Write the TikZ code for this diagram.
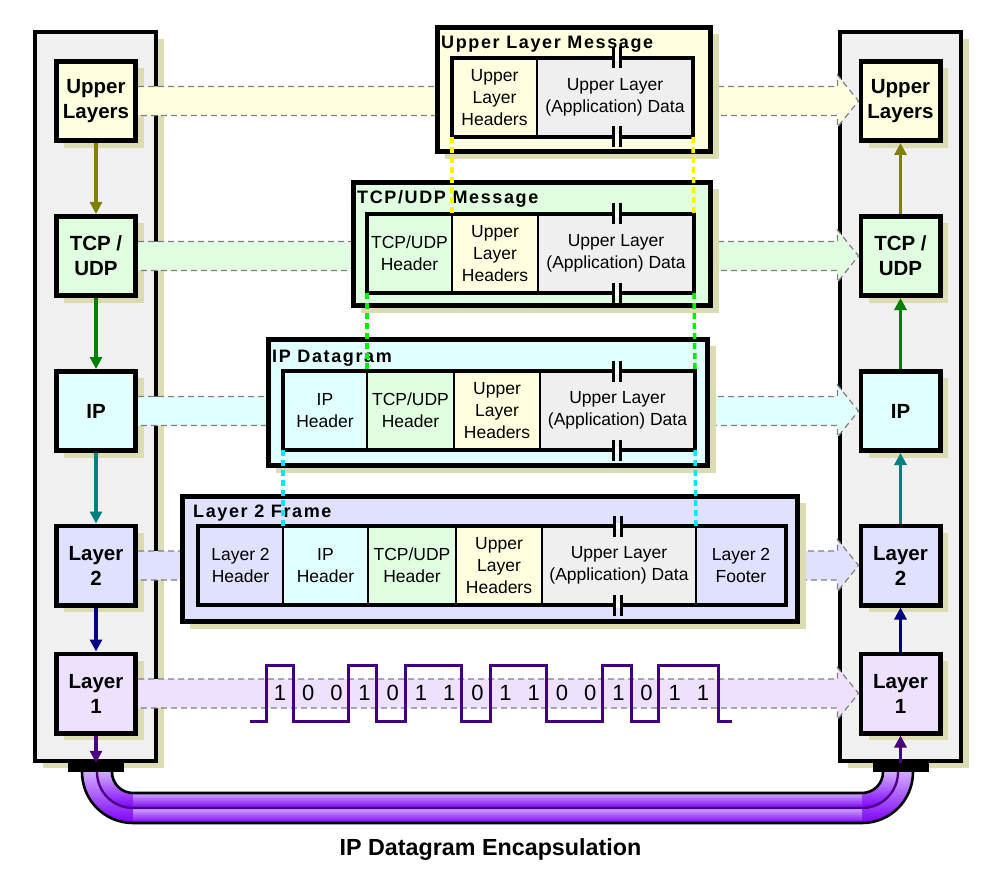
\documentclass[tikz,border=0pt]{standalone}
\usepackage{fontspec}
\setmainfont{Liberation Sans}
\newfontfamily\ttlfont[LetterSpace=9]{Liberation Sans}
\usetikzlibrary{arrows.meta,calc,shadows}
\definecolor{shtan}{RGB}{221,219,178}
\definecolor{pnl}{HTML}{F0F0F0}
\definecolor{cup}{HTML}{FFFFE0}
\definecolor{ctcp}{HTML}{E0FFE0}
\definecolor{cip}{HTML}{E0FFFF}
\definecolor{clt}{HTML}{E0E0FF}
\definecolor{clo}{HTML}{EDE1FF}
\definecolor{cdat}{HTML}{EFEFEF}
\definecolor{wavec}{HTML}{400080}
\definecolor{olivea}{HTML}{808000}
\definecolor{greena}{HTML}{008000}
\definecolor{teala}{HTML}{008080}
\definecolor{navya}{HTML}{000080}
\definecolor{indigoa}{HTML}{4B0082}
\definecolor{cabtop}{RGB}{210,170,255}
\definecolor{cabbot}{RGB}{125,0,250}
\definecolor{dotgreen}{HTML}{00F000}
\definecolor{dotcyan}{HTML}{00E8FF}
\newcommand\bandto[3]{%
  \fill[#3] ($(#1.east)+(0,-14.5)$) -- ($(#2.west)+(-21,-14.5)$) -- ($(#2.west)+(-21,-26)$) -- (#2.west) -- ($(#2.west)+(-21,26)$) -- ($(#2.west)+(-21,14.5)$) -- ($(#1.east)+(0,14.5)$) -- cycle;
  \draw[band] ($(#1.east)+(0,-14.5)$) -- ($(#2.west)+(-21,-14.5)$) -- ($(#2.west)+(-21,-26)$) -- (#2.west) -- ($(#2.west)+(-21,26)$) -- ($(#2.west)+(-21,14.5)$) -- ($(#1.east)+(0,14.5)$);
}
\newcommand\brkmark[2]{%
  \fill[white] (#1-2.5,#2-3) rectangle (#1+2.5,#2+3);
  \draw[line width=3.7] (#1-3.6,#2-10.5) -- (#1-3.6,#2+10.5) (#1+3.6,#2-10.5) -- (#1+3.6,#2+10.5);
}
\begin{document}
\begin{tikzpicture}[x=1pt,y=-1pt,
  shd/.style={drop shadow={shadow xshift=8pt,shadow yshift=-7pt,fill=shtan,opacity=1}},
  panel/.style={draw,line width=4,fill=pnl,minimum width=121,minimum height=729,inner sep=0,shd},
  lay/.style={draw,line width=4.6,minimum width=79.4,minimum height=79.4,inner sep=0,align=center,font=\fontsize{20.5}{25}\selectfont\bfseries,shd},
  msg/.style={draw,line width=4.6,inner sep=0,shd},
  cell/.style={draw,line width=1.3,inner sep=0,outer sep=0,align=center,font=\fontsize{17.5}{22}\selectfont},
  frame/.style={line width=4.6},
  ttl/.style={anchor=base west,inner sep=0,font={\ttlfont\fontsize{18}{21}\selectfont\bfseries}},
  band/.style={draw=gray,dash pattern=on 6pt off 4pt,line width=1.2},
  conn/.style={line width=3.4,-{Triangle[length=12pt,width=12pt]}},
  dots/.style={line width=3.5,dash pattern=on 6pt off 4pt},
  digit/.style={font=\fontsize{22}{22}\selectfont,inner sep=0}]
\fill[white] (0,0) rectangle (1000,877);
\useasboundingbox (0,0) rectangle (1000,877);

% panels
\node[panel] (lpan) at (95.75,396.5) {};
\node[panel] (rpan) at (900.5,396.5) {};

% layer boxes
\node[lay,fill=cup]  (lu) at (96,101)   {Upper\\Layers};
\node[lay,fill=ctcp] (lt) at (96,256)   {TCP /\\UDP};
\node[lay,fill=cip]  (li) at (96,411)   {IP};
\node[lay,fill=clt]  (l2) at (96,565.5) {Layer\\2};
\node[lay,fill=clo]  (l1) at (96,693.5) {Layer\\1};
\node[lay,fill=cup]  (ru) at (900.5,101)   {Upper\\Layers};
\node[lay,fill=ctcp] (rt) at (900.5,256)   {TCP /\\UDP};
\node[lay,fill=cip]  (ri) at (900.5,411)   {IP};
\node[lay,fill=clt]  (r2) at (900.5,565.5) {Layer\\2};
\node[lay,fill=clo]  (r1) at (900.5,693.5) {Layer\\1};

% bands
\bandto{lu}{ru}{cup}
\bandto{lt}{rt}{ctcp}
\bandto{li}{ri}{cip}
\bandto{l2}{r2}{clt}
\bandto{l1}{r1}{clo}

% Upper Layer Message
\node[msg,fill=cup,minimum width=273.4,minimum height=124.4] (ulm) at (574,89.5) {};
\node[ttl] (ulmt) at (441,49) {Upper Layer Message};
\node[cell,fill=cup,minimum width=85,minimum height=79] (ulmh) at (494.5,97.5) {Upper\\Layer\\Headers};
\node[cell,fill=cdat,minimum width=156,minimum height=79] (ulmd) at (615,97.5) {Upper Layer\\(Application) Data};
\draw[frame] (ulmh.north west) rectangle (ulmd.south east);
\brkmark{617}{58}
\brkmark{617}{137}

% TCP/UDP Message
\node[msg,fill=ctcp,minimum width=357.4,minimum height=123.4] (tcm) at (532,244) {};
\node[ttl] (tcmt) at (357,204) {TCP/UDP Message};
\node[cell,fill=ctcp,minimum width=85,minimum height=79] (tch) at (409.5,253.5) {TCP/UDP\\Header};
\node[cell,fill=cup,minimum width=86,minimum height=79] (tcu) at (495,253.5) {Upper\\Layer\\Headers};
\node[cell,fill=cdat,minimum width=156,minimum height=79] (tcd) at (616,253.5) {Upper Layer\\(Application) Data};
\draw[frame] (tch.north west) rectangle (tcd.south east);
\brkmark{617}{214}
\brkmark{617}{293}

% IP Datagram
\node[msg,fill=cip,minimum width=439.4,minimum height=126.4] (ipm) at (488,402.5) {};
\node[ttl] (ipmt) at (272,362) {IP Datagram};
\node[cell,fill=cip,minimum width=84,minimum height=79] (iph) at (325,410.5) {IP\\Header};
\node[cell,fill=ctcp,minimum width=87,minimum height=79] (ipt) at (410.5,410.5) {TCP/UDP\\Header};
\node[cell,fill=cup,minimum width=86,minimum height=79] (ipu) at (497,410.5) {Upper\\Layer\\Headers};
\node[cell,fill=cdat,minimum width=155,minimum height=79] (ipd) at (617.5,410.5) {Upper Layer\\(Application) Data};
\draw[frame] (iph.north west) rectangle (ipd.south east);
\brkmark{617}{371}
\brkmark{617}{450}

% Layer 2 Frame
\node[msg,fill=clt,minimum width=615.4,minimum height=125.4] (lfm) at (490,559) {};
\node[ttl] (lfmt) at (193,517) {Layer 2 Frame};
\node[cell,fill=clt,minimum width=85,minimum height=79] (lfh) at (240.5,565.5) {Layer 2\\Header};
\node[cell,fill=cip,minimum width=85,minimum height=79] (lfi) at (325.5,565.5) {IP\\Header};
\node[cell,fill=ctcp,minimum width=88,minimum height=79] (lft) at (412,565.5) {TCP/UDP\\Header};
\node[cell,fill=cup,minimum width=86,minimum height=79] (lfu) at (499,565.5) {Upper\\Layer\\Headers};
\node[cell,fill=cdat,minimum width=154,minimum height=79] (lfd) at (619,565.5) {Upper Layer\\(Application) Data};
\node[cell,fill=clt,minimum width=90,minimum height=79] (lff) at (741,565.5) {Layer 2\\Footer};
\draw[frame] (lfh.north west) rectangle (lff.south east);
\brkmark{618}{526}
\brkmark{618}{605}

% dotted correspondences
\draw[dots,yellow] (ulmh.south west) -- (tcu.north west);
\draw[dots,yellow] (ulmd.south east) -- (tcd.north east);
\draw[dots,dotgreen] (tch.south west) -- (ipt.north west);
\draw[dots,dotgreen] (tcd.south east) -- (ipd.north east);
\draw[dots,dotcyan] (iph.south west) -- (lfi.north west);
\draw[dots,dotcyan] (ipd.south east) -- (lfd.north east);

% bit stream
\foreach \b [count=\i from 0] in {1,0,0,1,0,1,1,0,1,1,0,0,1,0,1,1}
  \node[digit] (bit\i) at ({280+28.2*\i},693) {\b};
\draw[wavec,line width=3,line join=miter] (250,721) -| (266,665) -| (293.3,721) -| (348.3,665) -| (376.7,721) -| (405.7,665) -| (461.7,721) -| (490,665) -| (546,721) -| (602.7,665) -| (631.7,721) -| (658.3,665) -| (718.3,721) -- (732,721);

% cable
\shade[top color=cabtop,bottom color=cabbot] (97,772) .. controls (97,791.9) and (113.1,808) .. (133,808) -- (862,808) .. controls (881.9,808) and (898,791.9) .. (898,772) -- (883,772) .. controls (883,783.6) and (873.6,793) .. (862,793) -- (133,793) .. controls (121.4,793) and (112,783.6) .. (112,772) -- cycle;
\shade[top color=cabtop,bottom color=cabbot] (82,772) .. controls (82,800.2) and (104.8,823) .. (133,823) -- (862,823) .. controls (890.2,823) and (913,800.2) .. (913,772) -- (898,772) .. controls (898,791.9) and (881.9,808) .. (862,808) -- (133,808) .. controls (113.1,808) and (97,791.9) .. (97,772) -- cycle;
\shade[top color=cabtop,bottom color=cabbot] (133,793) rectangle (862,808);
\shade[top color=cabtop,bottom color=cabbot] (133,808) rectangle (862,823);
\draw[line width=2.6] (112,772) .. controls (112,783.6) and (121.4,793) .. (133,793) -- (862,793) .. controls (873.6,793) and (883,783.6) .. (883,772);
\draw[line width=2.3,indigoa] (97,772) .. controls (97,791.9) and (113.1,808) .. (133,808) -- (862,808) .. controls (881.9,808) and (898,791.9) .. (898,772);
\draw[line width=2.6] (82,772) .. controls (82,800.2) and (104.8,823) .. (133,823) -- (862,823) .. controls (890.2,823) and (913,800.2) .. (913,772);

% connector bars
\node[fill=black,minimum width=56,minimum height=9,inner sep=0] (lbar) at (96,767.5) {};
\node[fill=black,minimum width=56,minimum height=9,inner sep=0] (rbar) at (900.5,767.5) {};

% arrows
\draw[conn,olivea] (lu) -- (lt);
\draw[conn,greena] (lt) -- (li);
\draw[conn,teala] (li) -- (l2);
\draw[conn,navya] (l2) -- (l1);
\draw[conn,indigoa] (l1) -- (lbar);
\draw[conn,olivea] (rt) -- (ru);
\draw[conn,greena] (ri) -- (rt);
\draw[conn,teala] (r2) -- (ri);
\draw[conn,navya] (r1) -- (r2);
\draw[conn,indigoa] (rbar) -- (r1);

% caption
\node[anchor=base,inner sep=0,font=\fontsize{23.3}{28}\selectfont\bfseries] (cap) at (490.5,855) {IP Datagram Encapsulation};
\end{tikzpicture}
\end{document}
